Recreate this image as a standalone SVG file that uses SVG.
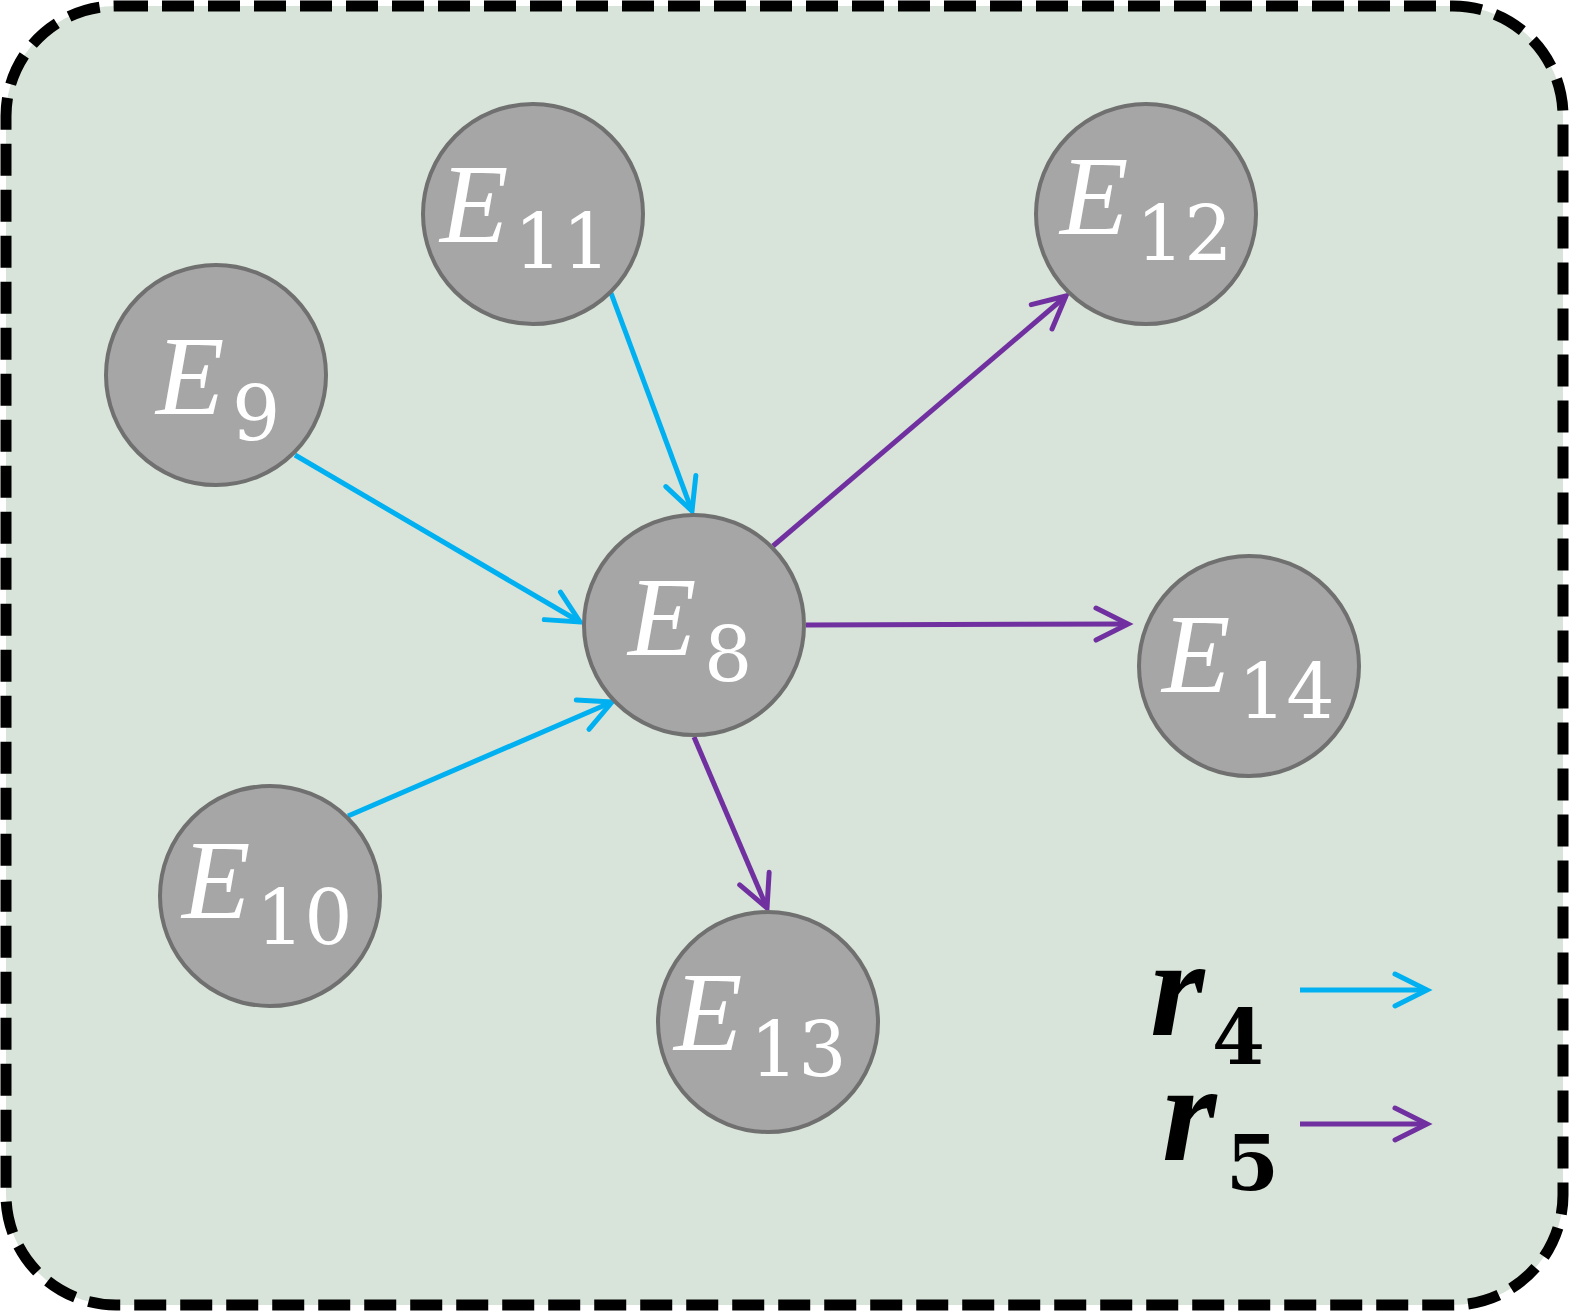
<svg xmlns="http://www.w3.org/2000/svg" width="1573" height="1313" viewBox="0 0 1573 1313">
<style>
.n{fill:#a6a6a6;stroke:#707070;stroke-width:4}
.E{fill:#fff;font-family:"Liberation Serif",serif;font-style:italic;font-size:112px}
.s{fill:#fff;font-family:"DejaVu Serif","Liberation Serif",serif;font-size:76px}
.c{stroke:#00b0f0;stroke-width:5;fill:none}
.p{stroke:#7030a0;stroke-width:5;fill:none}
.r{fill:#000;font-family:"Liberation Serif",serif;font-style:italic;font-weight:bold;font-size:140px}
.rs{fill:#000;font-family:"DejaVu Serif",serif;font-weight:bold;font-size:76px}
</style>
<defs>
<marker id="ac" markerUnits="userSpaceOnUse" markerWidth="50" markerHeight="50" refX="38" refY="20" orient="auto" viewBox="0 0 50 40"><path d="M6,4 L38,20 L6,36" fill="none" stroke="#00b0f0" stroke-width="5" stroke-linecap="round"/></marker>
<marker id="ap" markerUnits="userSpaceOnUse" markerWidth="50" markerHeight="50" refX="38" refY="20" orient="auto" viewBox="0 0 50 40"><path d="M6,4 L38,20 L6,36" fill="none" stroke="#7030a0" stroke-width="5" stroke-linecap="round"/></marker>
</defs>
<rect x="6" y="6" width="1557" height="1299" rx="110" fill="#d8e4d9" stroke="#000" stroke-width="11" stroke-dasharray="32 14"/>
<g id="connectors">
<line class="c" x1="295" y1="455" x2="580" y2="622" marker-end="url(#ac)"/>
<line class="c" x1="611" y1="293" x2="692" y2="511" marker-end="url(#ac)"/>
<line class="c" x1="348" y1="816" x2="612" y2="702" marker-end="url(#ac)"/>
<line class="p" x1="773" y1="546" x2="1066" y2="296" marker-end="url(#ap)"/>
<line class="p" x1="806" y1="625" x2="1128" y2="624" marker-end="url(#ap)"/>
<line class="p" x1="694" y1="737" x2="767" y2="908" marker-end="url(#ap)"/>
<line class="c" x1="1300" y1="990" x2="1427" y2="990" marker-end="url(#ac)"/>
<line class="p" x1="1300" y1="1124" x2="1427" y2="1124" marker-end="url(#ap)"/>
</g>
<g id="E11"><circle class="n" cx="533" cy="214" r="110"/><text class="E" x="440" y="242">E</text><text class="s" x="514" y="268">11</text></g>
<g id="E12"><circle class="n" cx="1146" cy="214" r="110"/><text class="E" x="1060" y="234">E</text><text class="s" x="1136" y="260">12</text></g>
<g id="E9"><circle class="n" cx="216" cy="375" r="110"/><text class="E" x="156" y="414">E</text><text class="s" x="232" y="440">9</text></g>
<g id="E8"><circle class="n" cx="694" cy="625" r="110"/><text class="E" x="628" y="655">E</text><text class="s" x="704" y="681">8</text></g>
<g id="E14"><circle class="n" cx="1249" cy="666" r="110"/><text class="E" x="1162" y="692">E</text><text class="s" x="1238" y="718">14</text></g>
<g id="E10"><circle class="n" cx="270" cy="896" r="110"/><text class="E" x="182" y="918">E</text><text class="s" x="256" y="944">10</text></g>
<g id="E13"><circle class="n" cx="768" cy="1022" r="110"/><text class="E" x="674" y="1050">E</text><text class="s" x="750" y="1076">13</text></g>
<g id="legend">
<text class="r" x="1150" y="1035">r</text><text class="rs" x="1212" y="1064">4</text>
<text class="r" x="1162" y="1160">r</text><text class="rs" x="1226" y="1190">5</text>
</g>
</svg>
